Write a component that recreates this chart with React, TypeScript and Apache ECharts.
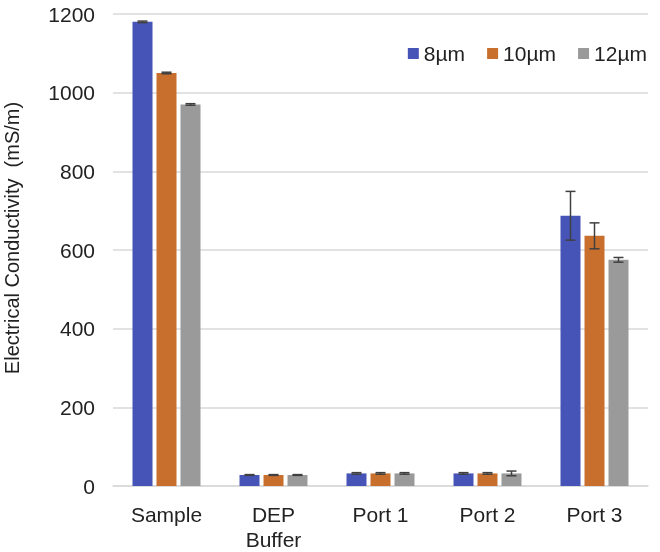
import React, { useEffect, useRef } from "react";
import * as echarts from "echarts";

const categories = ["Sample", "DEP\nBuffer", "Port 1", "Port 2", "Port 3"];
const seriesNames = ["8µm", "10µm", "12µm"];
const values8 = [1180, 28, 32, 32, 687];
const values10 = [1050, 28, 32, 32, 636];
const values12 = [970, 28, 32, 32, 575];
const err8 = [2, 1, 2, 2, 62];
const err10 = [2, 1, 2, 2, 33];
const err12 = [2, 1, 2, 6, 6];
const yTicks = { min: 0, max: 1200, interval: 200 };

const colors = ["#4554B6", "#C96F2E", "#9A9A9A"];
const FONT = "'Liberation Sans', Arial, sans-serif";

export default function App() {
  const ref = useRef<HTMLDivElement>(null);
  useEffect(() => {
    if (!ref.current) return;
    const chart = echarts.init(ref.current, undefined, { renderer: "svg" });
    const vals = [values8, values10, values12];
    const errs = [err8, err10, err12];
    const barWidth = 20;
    const step = 24;
    const barSeries = vals.map((v, i) => ({
      name: seriesNames[i],
      type: "bar",
      data: v,
      barWidth,
      barGap: "20%",
      itemStyle: { color: colors[i] },
    }));
    const errSeries = vals.map((v, i) => ({
      name: "err" + i,
      type: "custom",
      z: 10,
      data: v.map((val, k) => [k, val, errs[i][k]]),
      encode: { x: 0, y: 1 },
      renderItem: (params: any, api: any) => {
        const k = api.value(0);
        const val = api.value(1);
        const e = api.value(2);
        const off = (i - 1) * step;
        const top = api.coord([k, val + e]);
        const bot = api.coord([k, val - e]);
        const x = top[0] + off;
        const cap = 5;
        const style = { stroke: "#404040", lineWidth: 1.5 };
        return {
          type: "group",
          children: [
            { type: "line", shape: { x1: x, y1: top[1], x2: x, y2: bot[1] }, style },
            { type: "line", shape: { x1: x - cap, y1: top[1], x2: x + cap, y2: top[1] }, style },
            { type: "line", shape: { x1: x - cap, y1: bot[1], x2: x + cap, y2: bot[1] }, style },
          ],
        };
      },
    }));
    chart.setOption({
      animation: false,
      textStyle: { fontFamily: FONT },
      grid: { left: 113, right: 12, top: 14, bottom: 64 },
      legend: {
        data: seriesNames,
        right: 8,
        top: 38,
        icon: "rect",
        itemWidth: 11,
        itemHeight: 11,
        itemGap: 22,
        textStyle: { fontSize: 21, color: "#222", fontFamily: FONT },
      },
      graphic: [
        {
          type: "text",
          x: 12,
          y: 238,
          rotation: Math.PI / 2,
          style: {
            text: "Electrical Conductivity  (mS/m)",
            fontSize: 20,
            fontFamily: FONT,
            fill: "#222",
            textAlign: "center",
            textVerticalAlign: "middle",
          },
        },
      ],
      xAxis: {
        type: "category",
        data: categories,
        axisLine: { lineStyle: { color: "#d9d9d9", width: 1.5 } },
        axisTick: { show: false },
        axisLabel: { fontSize: 21, color: "#222", margin: 16, lineHeight: 25, fontFamily: FONT },
      },
      yAxis: {
        type: "value",
        min: yTicks.min,
        max: yTicks.max,
        interval: yTicks.interval,
        axisLine: { show: false },
        axisTick: { show: false },
        splitLine: { lineStyle: { color: "#d9d9d9", width: 1.5 } },
        axisLabel: {
          fontSize: 21,
          color: "#222",
          margin: 18,
          fontFamily: FONT,
          formatter: (v: number) => String(v),
        },
      },
      series: [...barSeries, ...errSeries],
    });
    return () => chart.dispose();
  }, []);
  return (
    <div
      ref={ref}
      style={{ position: "fixed", left: 0, top: 0, width: 660, height: 552 }}
    />
  );
}
